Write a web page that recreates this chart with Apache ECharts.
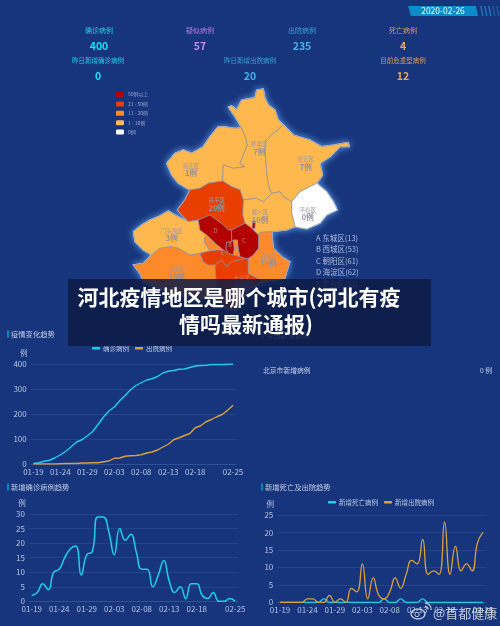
<!DOCTYPE html>
<html>
<head>
<meta charset="utf-8">
<style>
  html, body { margin: 0; padding: 0; background: #17357c; }
  #chart { position: absolute; left: 0; top: 0; width: 500px; height: 626px; filter: blur(0.45px); }
  #banner { position: absolute; left: 68px; top: 279px; width: 363px; height: 67px; background: rgba(13, 28, 70, 0.86); }
  .headline { position: absolute; white-space: nowrap; color: #fff; font: bold 21px/26px "Noto Sans CJK SC", sans-serif; transform: translateX(-50%); }
  #mark { position: absolute; left: 433px; top: 604px; color: rgba(255, 255, 255, 0.72); font: 13px/18px "Noto Sans CJK SC", sans-serif; white-space: nowrap; }
  #weibo { position: absolute; left: 410px; top: 600px; }
</style>
</head>
<body>
<div id="chart"></div>
<div id="banner"></div>
<div class="headline" style="left:239px;top:283px">河北疫情地区是哪个城市(河北有疫</div>
<div class="headline" style="left:246px;top:310px">情吗最新通报)</div>
<svg id="weibo" width="24" height="22" fill="none" stroke="rgba(255,255,255,0.72)">
  <ellipse cx="8" cy="14" rx="7" ry="5" stroke-width="1.4"/>
  <circle cx="7" cy="14.5" r="2.2" stroke-width="1"/>
  <path d="M15 3a6 6 0 0 1 6 7M15 6.5a2.6 2.6 0 0 1 3 3" stroke-width="1.3"/>
</svg>
<div id="mark">@首都健康</div>
<script src="https://cdn.jsdelivr.net/npm/echarts@6/dist/echarts.min.js"></script>
<script>
// ── data ────────────────────────────────────────────────────────────────
const dates = ['01-19','01-20','01-21','01-22','01-23','01-24','01-25','01-26','01-27','01-28',
  '01-29','01-30','01-31','02-01','02-02','02-03','02-04','02-05','02-06','02-07',
  '02-08','02-09','02-10','02-11','02-12','02-13','02-14','02-15','02-16','02-17',
  '02-18','02-19','02-20','02-21','02-22','02-23','02-24','02-25'];
const totalConfirmed = [2,5,11,15,25,36,51,69,88,97,113,130,159,188,212,228,253,274,297,314,325,336,341,350,364,371,374,379,380,386,392,394,395,398,398,398,399,400];
const totalCured = [0,0,0,0,0,1,2,2,2,4,4,5,5,9,12,23,24,31,33,34,37,44,48,56,68,79,97,105,114,122,145,153,169,178,189,198,215,235];
const newConfirmed = [2,3,6,4,10,11,15,18,19,9,16,17,29,29,24,16,25,21,23,17,11,11,5,9,14,7,3,5,1,6,6,2,1,3,0,0,1,0];
const newDeaths = [0,0,0,0,0,0,0,0,1,0,0,0,0,0,0,0,0,0,0,1,0,0,1,0,0,0,1,0,0,0,0,0,0,0,0,0,0,0];
const newCured = [0,0,0,0,0,1,1,0,0,2,0,1,0,4,3,11,1,7,2,1,3,7,4,8,12,11,18,8,9,8,23,8,16,9,11,9,17,20];

const kpiRow1 = [['确诊病例','400','#22cfe2','#12e6f5',99],['疑似病例','57','#b07ae6','#c58af5',200],['出院病例','235','#3a9fdc','#46b2ee',302],['死亡病例','4','#dd9a5c','#eda45c',403]];
const kpiRow2 = [['昨日新增确诊病例','0','#22cfe2','#12e6f5',98],['昨日新增出院病例','20','#3a9fdc','#46b2ee',250],['目前危重型病例','12','#dd9a5c','#eda45c',403]];

const districtValues = [['延庆区',1],['怀柔区',7],['密云区',7],['平谷区',0],['顺义区',10],['昌平区',29],['门头沟区',3],['房山区',16],['通州区',19],['大兴区',39],['海淀区',62],['朝阳区',61],['西城区',53],['东城区',13],['丰台区',41],['石景山区',14]];
const letterKeys = [['东城区','A'],['西城区','B'],['朝阳区','C'],['海淀区','D'],['丰台区','E'],['石景山区','F']];
const legendPieces = [
  { gt: 50, label: '50例以上', color: '#b30000' },
  { gte: 21, lte: 50, label: '21 - 50例', color: '#e83f00' },
  { gte: 11, lte: 20, label: '11 - 20例', color: '#ff8a2b' },
  { gte: 1, lte: 10, label: '1 - 10例', color: '#ffb84d' },
  { value: 0, label: '0例', color: '#ffffff' },
];

// district outlines (x right, y down, in map units)
const outlines = {
  '延庆区': [[425,128],[405,130],[370,125],[355,125],[330,155],[310,185],[275,205],[250,195],[225,205],[200,235],[215,270],[235,295],[260,310],[270,315],[300,310],[325,295],[368,288],[370,240],[400,250],[435,245],[420,235],[442,180],[438,160]],
  '怀柔区': [[385,66],[395,62],[410,75],[425,45],[465,38],[470,15],[490,12],[495,40],[505,60],[525,75],[535,105],[550,120],[520,145],[498,165],[495,190],[497,215],[500,260],[505,300],[515,325],[490,350],[470,340],[430,345],[420,315],[395,305],[368,288],[370,240],[400,250],[435,245],[420,235],[442,180],[438,160],[425,128],[405,95]],
  '密云区': [[550,120],[580,150],[630,165],[665,185],[700,180],[745,172],[748,185],[720,185],[690,215],[660,235],[668,270],[650,295],[600,320],[575,350],[550,335],[540,320],[515,325],[505,300],[500,260],[497,215],[495,190],[498,165],[520,145]],
  '平谷区': [[575,350],[600,320],[650,295],[680,320],[700,350],[712,375],[680,390],[660,415],[620,432],[585,425],[575,385]],
  '顺义区': [[430,345],[470,340],[490,350],[515,325],[540,320],[550,335],[575,350],[575,385],[585,425],[560,435],[515,440],[480,442],[475,450],[455,430],[435,415],[428,390]],
  '昌平区': [[270,315],[300,310],[325,295],[368,288],[395,305],[420,315],[430,345],[428,390],[435,415],[395,435],[385,435],[370,420],[350,405],[330,390],[295,405],[265,410],[232,375],[255,345]],
  '门头沟区': [[100,440],[125,420],[150,405],[175,395],[205,378],[225,390],[265,410],[295,405],[300,435],[320,450],[313,460],[315,475],[330,498],[300,505],[270,510],[235,490],[210,485],[180,490],[155,510],[130,495],[105,470]],
  '房山区': [[155,510],[180,490],[210,485],[235,490],[270,510],[300,505],[310,530],[325,540],[345,540],[348,585],[350,640],[300,640],[230,630],[180,610],[130,590],[120,565],[100,540],[130,535]],
  '大兴区': [[345,540],[365,525],[380,545],[395,530],[415,525],[435,520],[445,520],[445,565],[490,590],[445,610],[430,640],[410,675],[380,670],[350,640],[348,585]],
  '通州区': [[480,442],[515,440],[520,490],[545,515],[570,530],[560,560],[555,580],[490,590],[445,565],[445,520],[460,510],[475,490],[475,450]],
  '海淀区': [[295,405],[330,390],[350,405],[370,420],[385,435],[395,435],[395,470],[380,472],[378,492],[385,505],[370,495],[345,475],[320,450],[300,435]],
  '朝阳区': [[395,435],[435,415],[455,430],[475,450],[475,490],[460,510],[445,520],[435,520],[420,515],[415,495],[412,465],[400,465],[395,470]],
  '西城区': [[380,472],[395,470],[400,465],[403,490],[400,510],[385,505],[378,492]],
  '东城区': [[400,465],[412,465],[415,495],[420,515],[400,510],[403,490]],
  '丰台区': [[300,505],[330,498],[350,495],[370,495],[385,505],[400,510],[420,515],[435,520],[415,525],[395,530],[380,545],[365,525],[345,540],[325,540],[310,530]],
  '石景山区': [[320,450],[345,475],[370,495],[350,495],[330,498],[315,475],[313,460]],
};
const chaoyangEnclave = [[458,408],[466,408],[465,430],[456,430]];
const labelSpots = {'延庆区':[273,255],'怀柔区':[478,190],'密云区':[617,235],'平谷区':[623,387],'顺义区':[480,395],'昌平区':[350,358],'门头沟区':[215,450],'房山区':[230,565],'通州区':[505,525],'大兴区':[425,592],'海淀区':[347,437],'朝阳区':[432,467],'西城区':[390,481],'东城区':[408,487],'丰台区':[367,503],'石景山区':[333,477]};

// ── colours ─────────────────────────────────────────────────────────────
const fontFamily = '"Noto Sans CJK SC", sans-serif';
const cyan = '#1fd0e4';
const orange = '#dca03c';
const tickColor = '#b4c4e0';
const gridColor = 'rgba(96, 128, 190, 0.2)';

// ── map ─────────────────────────────────────────────────────────────────
const flip = (ring) => ring.map(([x, y]) => [x, -y]);
const closed = (ring) => flip(ring.concat([ring[0]]));
echarts.registerMap('beijing', {
  type: 'FeatureCollection',
  features: Object.keys(outlines).map((name) => ({
    type: 'Feature',
    properties: { name, cp: flip([labelSpots[name]])[0] },
    geometry: name === '朝阳区'
      ? { type: 'MultiPolygon', coordinates: [[closed(outlines[name])], [closed(chaoyangEnclave)]] }
      : { type: 'Polygon', coordinates: [closed(outlines[name])] },
  })),
});
const letters = Object.fromEntries(letterKeys);
const mapData = districtValues.map(([name, value]) => ({
  name, value,
  label: letters[name] ? { formatter: letters[name], color: '#c08a8a', fontSize: 5.5 } : undefined,
}));
const mapBox = { left: 133.33, top: 89, width: 216, height: 221 };

// ── axes helpers ────────────────────────────────────────────────────────
const xAxis = (gridIndex) => ({
  type: 'category', gridIndex, data: dates, boundaryGap: true,
  axisLine: { lineStyle: { color: gridColor } }, axisTick: { show: false },
  axisLabel: { color: tickColor, fontSize: 8, fontFamily, margin: 4,
    interval: (i) => (i <= 30 && i % 5 === 0) || i === dates.length - 1 },
});
const yAxis = (gridIndex, max, interval) => ({
  type: 'value', gridIndex, min: 0, max, interval,
  name: '例', nameGap: 7, nameTextStyle: { color: tickColor, fontSize: 7.5, fontFamily, padding: [0, 14, 0, 0] },
  axisLine: { show: false }, axisTick: { show: false },
  axisLabel: { color: tickColor, fontSize: 8, fontFamily, margin: 4 },
  splitLine: { lineStyle: { color: gridColor, width: 1 } },
});
const line = (name, data, color, idx, smooth, width) => ({
  name, type: 'line', data, xAxisIndex: idx, yAxisIndex: idx, smooth, symbol: 'none',
  lineStyle: { color, width }, itemStyle: { color },
});
const legend = (names, left, top) => ({
  data: names, left, top, icon: 'roundRect', itemWidth: 8, itemHeight: 2.5, itemGap: 6,
  textStyle: { color: '#b9c8e2', fontSize: 6.5, fontFamily, padding: [0, 0, 0, -2] },
});

// ── flat graphics: header, section titles, key list ─────────────────────
const text = (x, y, str, fill, fontSize, align, fontWeight) => ({
  type: 'text', x, y, silent: true,
  style: { text: str, fill, fontSize, fontFamily, fontWeight: fontWeight || 'normal', align: align || 'center', verticalAlign: 'middle' },
});
const poly = (points, fill) => ({ type: 'polygon', silent: true, shape: { points }, style: { fill } });
const sectionBar = (x, y) => ({ type: 'rect', silent: true, shape: { x, y: y - 3.5, width: 2, height: 7 }, style: { fill: '#0a86c8' } });

const graphics = [
  poly([[408,6],[476,6],[478,16],[411,16]], '#0b8ccb'),
  text(443, 11, '2020-02-26', '#e8f4ff', 8.5),
];
[480, 484, 488, 492, 496].forEach((x, i) => {
  graphics.push(poly([[x,6],[x+1.6,6],[x+3.6,16],[x+2,16]], i < 3 ? '#1675b8' : '#1a5aa0'));
});
kpiRow1.forEach(([label, value, labelColor, valueColor, x]) => {
  graphics.push(text(x, 30.5, label, labelColor, 7));
  graphics.push(text(x, 46, value, valueColor, 10.5, 'center', 'bold'));
});
kpiRow2.forEach(([label, value, labelColor, valueColor, x]) => {
  graphics.push(text(x, 61, label, labelColor, 6.5));
  graphics.push(text(x, 76, value, valueColor, 10.5, 'center', 'bold'));
});
[['疫情变化趋势', 7, 334], ['今日新增病例', 262, 335], ['新增确诊病例趋势', 7, 487], ['新增死亡及出院趋势', 261, 487]].forEach(([label, x, y]) => {
  graphics.push(sectionBar(x, y));
  graphics.push(text(x + 4, y, label, '#c3d0e6', 7.3, 'left'));
});
graphics.push(text(263, 370, '北京市新增病例', '#c3d0e6', 6.8, 'left'));
graphics.push(text(492, 370, '0 例', '#c3d0e6', 6.8, 'right'));
letterKeys.forEach(([name, letter], i) => {
  const value = districtValues.find((d) => d[0] === name)[1];
  graphics.push(text(316, 238 + i * 11.55, letter + ' ' + name + '(' + value + ')', '#aebcd6', 7.5, 'left'));
});

// ── chart ───────────────────────────────────────────────────────────────
const chart = echarts.init(document.getElementById('chart'), null, { renderer: 'canvas' });
chart.setOption({
  animation: false,
  backgroundColor: '#17357c',
  tooltip: { show: false },
  grid: [
    { left: 30.7, top: 364, width: 205, height: 100 },
    { left: 29, top: 514, width: 209, height: 87.3 },
    { left: 277.3, top: 515, width: 208.4, height: 87.3 },
  ],
  xAxis: [xAxis(0), xAxis(1), xAxis(2)],
  yAxis: [yAxis(0, 400, 100), yAxis(1, 30, 5), yAxis(2, 25, 5)],
  legend: [
    legend(['确诊病例', '出院病例'], 87, 340),
    legend(['新增死亡病例', '新增出院病例'], 323, 494),
  ],
  // glow under the districts
  geo: {
    map: 'beijing', silent: true, aspectScale: 1, ...mapBox,
    itemStyle: { areaColor: '#ffb84d', borderColor: '#dbe9ff', borderWidth: 1.2, shadowColor: '#5f9fe8', shadowBlur: 7 },
    label: { show: false },
  },
  visualMap: {
    type: 'piecewise', seriesIndex: 0, pieces: legendPieces, left: 116, top: 92, padding: 0,
    orient: 'vertical', itemWidth: 8, itemHeight: 5, itemGap: 4.4, itemSymbol: 'roundRect', selectedMode: false,
    textGap: 4, textStyle: { color: '#99a9c6', fontSize: 5, fontFamily },
  },
  series: [
    {
      type: 'map', map: 'beijing', silent: true, aspectScale: 1, ...mapBox, data: mapData, showLegendSymbol: false,
      itemStyle: { borderColor: '#8b8f9f', borderWidth: 0.7 },
      label: {
        show: true, color: '#9a9aa6', fontFamily,
        formatter: (p) => '{n|' + p.name + '}\n{v|' + p.value + '例}',
        rich: {
          n: { fontSize: 5.5, color: '#9a9aa6', fontFamily, lineHeight: 7 },
          v: { fontSize: 7.5, color: '#8f939f', fontFamily, fontWeight: 'bold', lineHeight: 9 },
        },
      },
    },
    line('确诊病例', totalConfirmed, cyan, 0, false, 1.4),
    line('出院病例', totalCured, orange, 0, false, 1.4),
    line('新增确诊病例', newConfirmed, cyan, 1, true, 1.5),
    line('新增死亡病例', newDeaths, cyan, 2, true, 1.3),
    line('新增出院病例', newCured, orange, 2, true, 1.3),
  ],
  graphic: graphics,
});
</script>
</body>
</html>
